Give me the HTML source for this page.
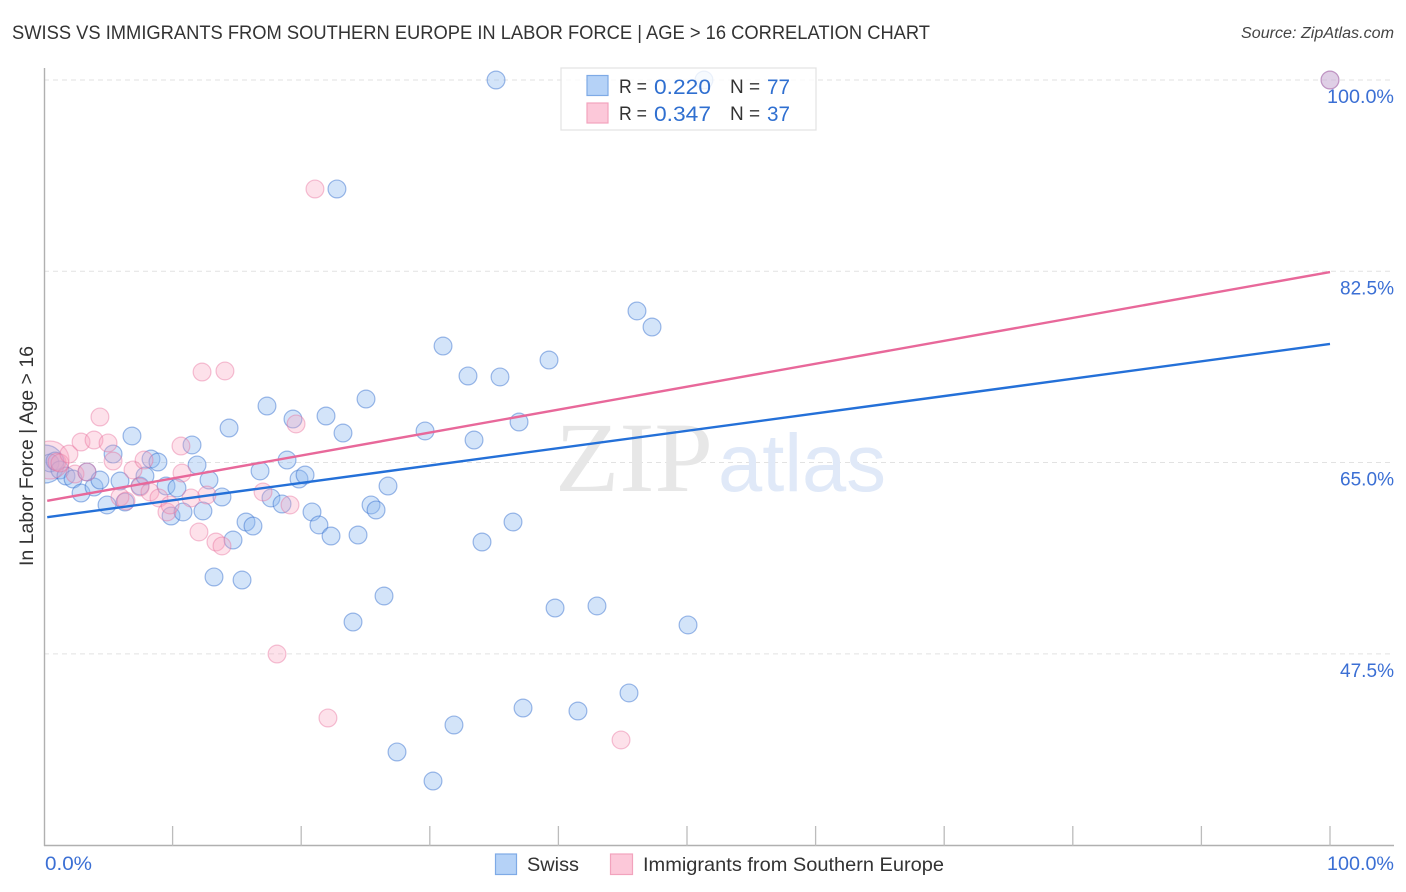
<!DOCTYPE html>
<html lang="en">
<head>
<meta charset="utf-8">
<title>Swiss vs Immigrants from Southern Europe in Labor Force | Age &gt; 16 Correlation Chart</title>
<style>
html,body{margin:0;padding:0;background:#fff;}
svg{display:block;font-family:"Liberation Sans",sans-serif;}
</style>
</head>
<body>
<svg id="chart" width="1406" height="892" viewBox="0 0 1406 892" xmlns="http://www.w3.org/2000/svg">
<defs><clipPath id="plot-clip"><rect x="45" y="60" width="1361" height="786"/></clipPath></defs>
<text x="12" y="39" font-size="19.5" fill="#333" textLength="918" lengthAdjust="spacingAndGlyphs">SWISS VS IMMIGRANTS FROM SOUTHERN EUROPE IN LABOR FORCE | AGE &gt; 16 CORRELATION CHART</text>
<text x="1241" y="38" font-size="15.5" font-style="italic" fill="#444" textLength="153" lengthAdjust="spacingAndGlyphs">Source: ZipAtlas.com</text>
<g id="grid"></g>
<text x="555" y="491" font-family="'Liberation Serif',serif" font-size="100" fill="#e7e7e7" textLength="158" lengthAdjust="spacingAndGlyphs">ZIP</text>
<text x="718" y="491" font-size="82" fill="#e0e9f8" textLength="168" lengthAdjust="spacingAndGlyphs">atlas</text>
<g id="axes"></g>
<g id="points-swiss" clip-path="url(#plot-clip)"></g>
<g id="points-immigrants" clip-path="url(#plot-clip)"></g>
<g id="trends"></g>
<g id="labels"></g>
<text transform="translate(33,566) rotate(-90)" font-size="19" fill="#333" textLength="220" lengthAdjust="spacingAndGlyphs">In Labor Force | Age &gt; 16</text>

<g>
  <rect x="561" y="68" width="255" height="62" fill="#fff" fill-opacity="0.8" stroke="#e2e2e2" stroke-width="1.2"/>
  <rect x="587" y="75.5" width="21" height="20" fill="#b5d2f7" stroke="#7eaae6" stroke-width="1.2"/>
  <rect x="587" y="103" width="21" height="20" fill="#fcc8d9" stroke="#f2a3bd" stroke-width="1.2"/>
  <text x="619" y="93" font-size="19" fill="#333" textLength="28" lengthAdjust="spacingAndGlyphs">R =</text>
  <text x="654" y="94" font-size="21" fill="#2f6fd0" textLength="57" lengthAdjust="spacingAndGlyphs">0.220</text>
  <text x="730" y="93" font-size="19" fill="#333">N =</text>
  <text x="767" y="94" font-size="21" fill="#2f6fd0" textLength="23" lengthAdjust="spacingAndGlyphs">77</text>
  <text x="619" y="120" font-size="19" fill="#333" textLength="28" lengthAdjust="spacingAndGlyphs">R =</text>
  <text x="654" y="121" font-size="21" fill="#2f6fd0" textLength="57" lengthAdjust="spacingAndGlyphs">0.347</text>
  <text x="730" y="120" font-size="19" fill="#333">N =</text>
  <text x="767" y="121" font-size="21" fill="#2f6fd0" textLength="23" lengthAdjust="spacingAndGlyphs">37</text>
</g>

<g>
  <rect x="495.500" y="854" width="21" height="20.500" fill="#b5d2f7" stroke="#7eaae6" stroke-width="1.2"/>
  <text x="527" y="871" font-size="19.500" fill="#333" textLength="52" lengthAdjust="spacingAndGlyphs">Swiss</text>
  <rect x="610.500" y="854" width="22" height="20.500" fill="#fcc8d9" stroke="#f2a3bd" stroke-width="1.2"/>
  <text x="643" y="871" font-size="19.500" fill="#333" textLength="301" lengthAdjust="spacingAndGlyphs">Immigrants from Southern Europe</text>
</g>
</svg>
<script>
const yTickValues = [100, 82.5, 65, 47.5];
const yTickLabels = ['100.0%', '82.5%', '65.0%', '47.5%'];
const xTickValues = [0, 10, 20, 30, 40, 50, 60, 70, 80, 90, 100];
const xEndLabels = ['0.0%', '100.0%'];
const swissX = [0.08,0.47,0.86,1.24,1.71,2.26,3.34,2.88,3.89,4.35,4.9,5.37,5.91,6.3,6.84,7.47,7.85,8.32,8.86,9.49,9.88,10.34,10.81,11.51,11.9,12.36,12.83,13.22,13.84,14.39,14.7,15.4,15.71,16.25,16.8,17.34,17.65,18.51,18.9,19.36,19.83,20.3,20.84,21.38,21.93,22.32,22.78,23.25,24.03,24.42,25.04,25.43,25.82,26.44,26.75,27.45,29.63,30.25,31.03,31.88,32.97,33.44,34.06,35.15,35.46,36.47,36.94,37.25,39.27,39.74,41.52,43,45.49,46.11,47.28,50.08,51.32,100];
const swissY = [64.87,64.96,65.14,64.32,63.77,63.49,64.14,62.21,62.76,63.4,61.12,65.78,63.31,61.39,67.43,62.85,63.77,65.32,65.05,62.85,60.11,62.67,60.48,66.61,64.78,60.57,63.4,54.53,61.85,68.16,57.91,54.25,59.56,59.19,64.23,70.17,61.76,61.21,65.23,68.98,63.49,63.86,60.48,59.29,69.26,58.28,90.03,67.7,50.41,58.37,70.81,61.12,60.66,52.79,62.85,38.52,67.89,35.86,75.66,40.99,72.92,67.06,57.73,100,72.83,59.56,68.71,42.54,74.38,51.69,42.27,51.88,43.92,78.87,77.4,50.14,100,100];
const immigrantsX = [0.47,1.01,1.24,1.94,2.41,2.88,3.34,3.89,4.35,4.98,5.37,5.91,6.38,6.92,7.47,7.78,8.24,8.94,9.56,9.8,10.65,10.73,11.43,12.05,12.29,12.67,13.37,13.84,14.07,17.03,18.12,19.13,19.6,21.07,22.08,44.87,100];
const immigrantsY = [65.23,65.05,64.96,65.78,63.95,66.88,64.14,67.06,69.17,66.79,65.14,61.85,61.48,64.32,62.76,65.23,62.31,61.76,60.48,61.12,66.51,64.04,61.76,58.65,73.28,62.03,57.73,57.37,73.38,62.31,47.48,61.12,68.53,90.03,41.63,39.62,100];
const swissTrend = [60.0, 75.85];
const immigrantsTrend = [61.5, 82.43];
const trendXRange = [0.25, 100];
const swissLargeValue = 0.08;
const immigrantsLargeValue = 0.47;

const SVGNS = 'http://www.w3.org/2000/svg';
function xScale(v) { return 44 + v * 12.86; }
function yScale(v) { return 80 + (100 - v) * 10.93; }
function make(tag, attrs, parent) {
  const el = document.createElementNS(SVGNS, tag);
  for (const k in attrs) el.setAttribute(k, attrs[k]);
  parent.appendChild(el);
  return el;
}

const grid = document.getElementById('grid');
yTickValues.forEach(function (v) {
  const line = make('line', { x1: 44, x2: 1394, y1: yScale(v), y2: yScale(v), stroke: '#e2e2e2', 'stroke-width': 1, 'stroke-dasharray': '5 4' }, grid);
  
  
});

const axes = document.getElementById('axes');
const yAxis = make('line', { x1: 44.5, x2: 44.5, y1: 68, y2: 846, stroke: '#b0b0b0', 'stroke-width': 1.4 }, axes);


const xAxis = make('line', { x1: 44, x2: 1394, y1: 845.5, y2: 845.5, stroke: '#b0b0b0', 'stroke-width': 1.4 }, axes);


xTickValues.forEach(function (v) {
  if (v === 0) return;
  const tick = make('line', { x1: xScale(v), x2: xScale(v), y1: 826, y2: 846, stroke: '#bcbcbc', 'stroke-width': 1.3 }, axes);
  
  
});

function drawPoints(groupId, xs, ys, largeX, fill, stroke, name) {
  const g = document.getElementById(groupId);
  xs.forEach(function (x, i) {
    const big = x === largeX;
    const c = make('circle', { cx: xScale(x), cy: yScale(ys[i]), r: big ? 19 : 8.900, fill: fill, stroke: stroke, 'stroke-width': 1.2 }, g);
    
    
  });
}
drawPoints('points-swiss', swissX, swissY, swissLargeValue, 'rgba(140,185,240,0.38)', 'rgba(45,105,205,0.45)', 'swiss-point');
drawPoints('points-immigrants', immigrantsX, immigrantsY, immigrantsLargeValue, 'rgba(250,165,190,0.33)', 'rgba(232,110,155,0.42)', 'immigrant-point');

const trends = document.getElementById('trends');
const swissLine = make('line', { x1: xScale(trendXRange[0]), y1: yScale(swissTrend[0]), x2: xScale(trendXRange[1]), y2: yScale(swissTrend[1]), stroke: '#2470d8', 'stroke-width': 2.4 }, trends);


const immigrantsLine = make('line', { x1: xScale(trendXRange[0]), y1: yScale(immigrantsTrend[0]), x2: xScale(trendXRange[1]), y2: yScale(immigrantsTrend[1]), stroke: '#e8689a', 'stroke-width': 2.4 }, trends);



const labels = document.getElementById('labels');
yTickValues.forEach(function (v, i) {
  const t = make('text', { x: 1394, y: yScale(v) + 23, 'font-size': 19, fill: '#3b6fd4', 'text-anchor': 'end', textLength: yTickLabels[i].length > 5 ? 67 : 54, lengthAdjust: 'spacingAndGlyphs' }, labels);
  t.textContent = yTickLabels[i];
  
  
});
const xLeft = make('text', { x: 45, y: 870, 'font-size': 19, fill: '#3b6fd4', textLength: 47, lengthAdjust: 'spacingAndGlyphs' }, labels);
xLeft.textContent = xEndLabels[0];


const xRight = make('text', { x: 1394, y: 870, 'font-size': 19, fill: '#3b6fd4', 'text-anchor': 'end', textLength: 67, lengthAdjust: 'spacingAndGlyphs' }, labels);
xRight.textContent = xEndLabels[1];


</script>
</body>
</html>
